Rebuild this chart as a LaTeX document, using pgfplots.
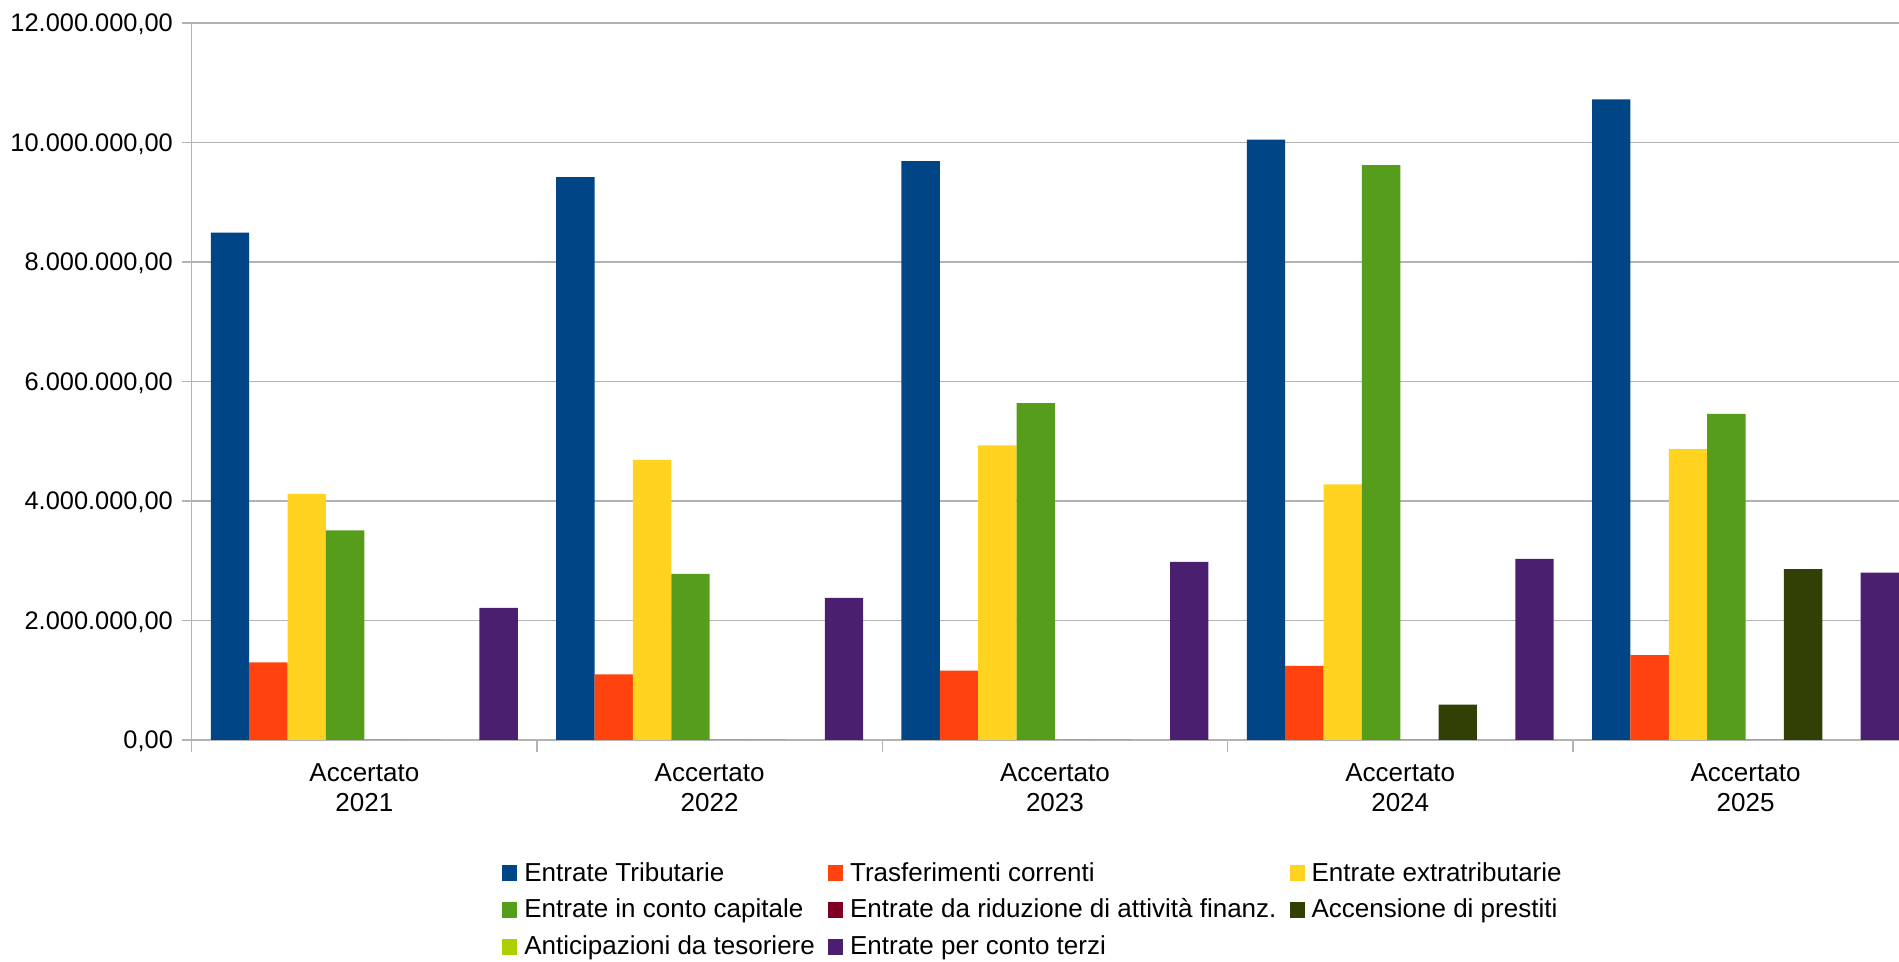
\documentclass[border=0pt]{standalone}
\usepackage{fontspec}
\setmainfont{Liberation Sans}
\usepackage{pgfplots}
\pgfplotsset{compat=1.18}
\definecolor{c1}{HTML}{004586}
\definecolor{c2}{HTML}{FF420E}
\definecolor{c3}{HTML}{FFD320}
\definecolor{c4}{HTML}{579D1C}
\definecolor{c5}{HTML}{7E0021}
\definecolor{c6}{HTML}{314004}
\definecolor{c7}{HTML}{AECF00}
\definecolor{c8}{HTML}{4B1F6F}
\definecolor{gridc}{HTML}{B3B3B3}
\begin{document}
\begin{tikzpicture}[x=1pt,y=1pt]
\useasboundingbox (-95.85,-111) rectangle (853.65,370);
\begin{axis}[
  at={(0,0)}, anchor=south west,
  scale only axis, width=853.65pt, height=358.5pt,
  xmin=-0.5, xmax=4.44444, ymin=0, ymax=12000000,
  ybar, bar width=0.11111,
  axis x line=bottom, axis y line=left,
  axis line style={-, draw=gridc, line width=0.6pt},
  ymajorgrids, grid style={draw=gridc, line width=0.6pt},
  xtick={0,1,2,3,4},
  xticklabels={{Accertato\\2021},{Accertato\\2022},{Accertato\\2023},{Accertato\\2024},{Accertato\\2025}},
  minor xtick={-0.5,0.5,1.5,2.5,3.5},
  major x tick style={draw=none},
  tick align=outside,
  tick style={draw=gridc, line width=0.6pt},
  major tick length=5pt, minor tick length=6pt,
  ytick={0,2000000,4000000,6000000,8000000,10000000,12000000},
  scaled y ticks=false,
  yticklabel style={/pgf/number format/fixed, /pgf/number format/fixed zerofill, /pgf/number format/precision=2, /pgf/number format/1000 sep={.}, /pgf/number format/use comma, /pgf/number format/assume math mode=true,
    font=\fontsize{12.7}{14}\selectfont, inner sep=0pt, anchor=east, xshift=-4.2pt, text depth=0pt},
  xticklabel style={font=\fontsize{13}{15.2}\selectfont, align=center, inner sep=0pt, anchor=north, yshift=-6.5pt},
  legend columns=3, legend cell align=left,
  legend image code/.code={\fill[#1] (0pt,-3.4pt) rectangle (7.5pt,4.6pt);},
  legend style={at={(axis description cs:0.18175,-0.1697)}, anchor=north west, draw=none, fill=none, inner sep=0pt,
    font=\fontsize{13}{15}\selectfont,
    nodes={inner sep=0pt, text height=9.5pt, text depth=3pt},
    row sep=5.8pt,
    /tikz/every odd column/.append style={column sep=3.5pt},
    /tikz/every even column/.append style={column sep=6.6pt}},
]
\addplot[fill=c1, draw=none, bar shift=-0.38889] coordinates {(0,8490000) (1,9420000) (2,9690000) (3,10050000) (4,10720000)};
\addlegendentry{Entrate Tributarie}
\addplot[fill=c2, draw=none, bar shift=-0.27778] coordinates {(0,1300000) (1,1100000) (2,1160000) (3,1240000) (4,1420000)};
\addlegendentry{Trasferimenti correnti}
\addplot[fill=c3, draw=none, bar shift=-0.16667] coordinates {(0,4120000) (1,4690000) (2,4930000) (3,4280000) (4,4870000)};
\addlegendentry{Entrate extratributarie}
\addplot[fill=c4, draw=none, bar shift=-0.05556] coordinates {(0,3510000) (1,2780000) (2,5640000) (3,9620000) (4,5460000)};
\addlegendentry{Entrate in conto capitale}
\addplot[fill=c5, draw=none, bar shift=0.05556] coordinates {(0,0) (1,0) (2,0) (3,0) (4,0)};
\addlegendentry{Entrate da riduzione di attività finanz.}
\addplot[fill=c6, draw=none, bar shift=0.16667] coordinates {(0,0) (1,0) (2,0) (3,590000) (4,2860000)};
\addlegendentry{Accensione di prestiti}
\addplot[fill=c7, draw=none, bar shift=0.27778] coordinates {(0,0) (1,0) (2,0) (3,0) (4,0)};
\addlegendentry{Anticipazioni da tesoriere}
\addplot[fill=c8, draw=none, bar shift=0.38889] coordinates {(0,2210000) (1,2380000) (2,2980000) (3,3030000) (4,2800000)};
\addlegendentry{Entrate per conto terzi}
\end{axis}
\end{tikzpicture}
\end{document}
